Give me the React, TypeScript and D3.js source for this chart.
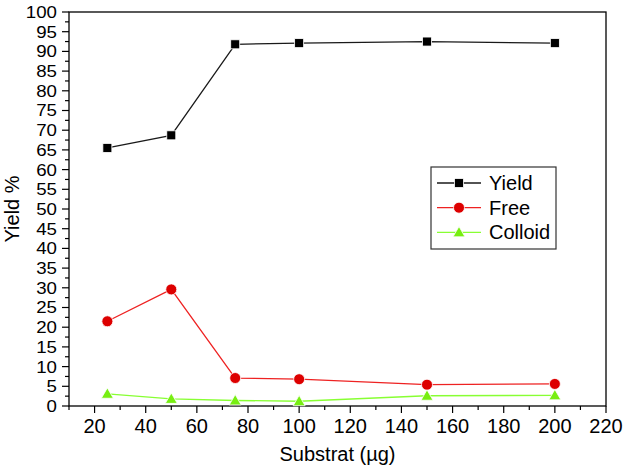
import React from "react";
import * as d3 from "d3";

const substrat = [25, 50, 75, 100, 150, 200];
const yieldPct = [65.5, 68.7, 91.8, 92.1, 92.5, 92.1];
const freePct = [21.5, 29.6, 7.1, 6.8, 5.4, 5.6];
const colloidPct = [3.1, 1.8, 1.4, 1.2, 2.6, 2.7];

const xTicks = d3.range(20, 221, 20);
const xMinor = d3.range(10, 221, 10).filter(v => v % 20 !== 0);
const yTicks = d3.range(0, 101, 5);
const yMinor = d3.range(2.5, 100, 5);

const width = 623;
const height = 470;
const margin = { top: 12, right: 17, bottom: 64, left: 69 };
const font = "Arial, 'Liberation Sans', sans-serif";
const fs = 20;
const yFs = 17;

const series = [
  { name: "Yield", values: yieldPct, line: "#1a1a1a", fill: "#000000", shape: "square" },
  { name: "Free", values: freePct, line: "#ee2222", fill: "#dd0000", shape: "circle" },
  { name: "Colloid", values: colloidPct, line: "#88ff33", fill: "#77ee11", shape: "triangle" },
];

function Marker({ shape, x, y, fill }: { shape: string; x: number; y: number; fill: string }) {
  if (shape === "square") {
    return <rect x={x - 4.5} y={y - 4.5} width={9} height={9} fill={fill} stroke="#fff" strokeWidth={0.8} />;
  }
  if (shape === "circle") {
    return <circle cx={x} cy={y} r={5.5} fill={fill} stroke="#fff" strokeWidth={0.8} />;
  }
  const s = d3.symbol().type(d3.symbolTriangle).size(62)();
  return <path d={s || ""} transform={`translate(${x},${y + 1})`} fill={fill} stroke="#fff" strokeWidth={0.8} />;
}

export default function App() {
  const x = d3.scaleLinear().domain([10, 220]).range([margin.left, width - margin.right]);
  const y = d3.scaleLinear().domain([0, 100]).range([height - margin.bottom, margin.top]);
  const line = d3.line<number>()
    .x((_, i) => x(substrat[i]))
    .y(d => y(d));

  const x0 = x.range()[0], x1 = x.range()[1];
  const y0 = y.range()[0], y1 = y.range()[1];

  const legend = { x: 431, y: 167, w: 125, h: 82 };

  return (
    <svg width={width} height={height} style={{ position: "absolute", left: 0, top: 0, background: "#fff" }}
      fontFamily={font}>
      {/* frame */}
      <rect x={x0} y={y1} width={x1 - x0} height={y0 - y1} fill="none" stroke="#000" strokeWidth={1.3} />

      {/* y axis ticks */}
      {yTicks.map(t => (
        <g key={"y" + t}>
          <line x1={x0 - 7} x2={x0} y1={y(t)} y2={y(t)} stroke="#000" strokeWidth={1.2} />
          <text x={x0 - 12} y={y(t)} dy="0.35em" textAnchor="end" fontSize={yFs}
            transform={`translate(${x0 - 12},0) scale(1.1,1) translate(${-(x0 - 12)},0)`}>{t}</text>
        </g>
      ))}
      {yMinor.map(t => (
        <line key={"ym" + t} x1={x0 - 4} x2={x0} y1={y(t)} y2={y(t)} stroke="#000" strokeWidth={1.2} />
      ))}

      {/* x axis ticks */}
      {xTicks.map(t => (
        <g key={"x" + t}>
          <line x1={x(t)} x2={x(t)} y1={y0} y2={y0 + 7} stroke="#000" strokeWidth={1.2} />
          <text x={x(t)} y={y0 + 27} textAnchor="middle" fontSize={fs}>{t}</text>
        </g>
      ))}
      {xMinor.map(t => (
        <line key={"xm" + t} x1={x(t)} x2={x(t)} y1={y0} y2={y0 + 4} stroke="#000" strokeWidth={1.2} />
      ))}

      <text x={(x0 + x1) / 2} y={y0 + 55} textAnchor="middle" fontSize={fs}>Substrat (µg)</text>
      <text transform={`translate(19,${(y0 + y1) / 2}) rotate(-90)`} textAnchor="middle" fontSize={fs}>Yield %</text>

      {/* series */}
      {series.map(s => (
        <g key={s.name}>
          <path d={line(s.values) || ""} fill="none" stroke={s.line} strokeWidth={1.3} />
          {s.values.map((v, i) => (
            <Marker key={i} shape={s.shape} x={x(substrat[i])} y={y(v)} fill={s.fill} />
          ))}
        </g>
      ))}

      {/* legend */}
      <rect x={legend.x} y={legend.y} width={legend.w} height={legend.h} fill="#fff" stroke="#333" strokeWidth={1.2} />
      {series.map((s, i) => {
        const cy = legend.y + 16 + i * 24.7;
        return (
          <g key={"lg" + s.name}>
            <line x1={legend.x + 6} x2={legend.x + 50} y1={cy} y2={cy} stroke={s.line} strokeWidth={1.3} />
            <Marker shape={s.shape} x={legend.x + 28} y={cy} fill={s.fill} />
            <text x={legend.x + 58} y={cy} dy="0.35em" fontSize={fs}>{s.name}</text>
          </g>
        );
      })}
    </svg>
  );
}
